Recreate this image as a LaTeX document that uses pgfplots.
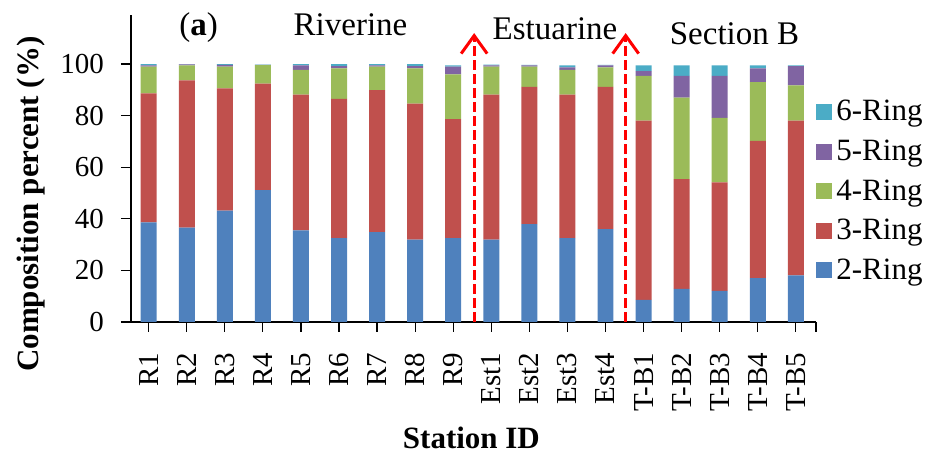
\documentclass[border=0pt]{standalone}
\usepackage{pgfplots}
\pgfplotsset{compat=1.18}
\usepackage{pgfplotstable}
\usepackage{fontspec}
\setmainfont{Liberation Serif}
\usetikzlibrary{arrows.meta}
\definecolor{cTwo}{HTML}{4F81BD}
\definecolor{cThree}{HTML}{C0504D}
\definecolor{cFour}{HTML}{9BBB59}
\definecolor{cFive}{HTML}{8064A2}
\definecolor{cSix}{HTML}{4BACC6}
\pgfplotstableread{
x two three four five six
0 38.6 50.0 10.4 0.5 0.5
1 36.6 57.1 5.8 0.4 0.1
2 43.2 47.4 8.4 0.7 0.3
3 51.1 41.3 7.2 0.1 0.1
4 35.5 52.6 9.6 1.8 0.5
5 32.5 54.0 11.8 0.9 0.8
6 34.8 55.1 9.1 0.5 0.5
7 31.9 52.7 13.7 0.9 0.8
8 32.5 46.1 17.4 3.0 0.5
9 31.9 56.2 10.9 0.5 0.3
10 37.9 53.2 7.9 0.5 0.2
11 32.5 55.6 9.6 1.0 0.8
12 36.0 55.1 7.6 0.8 0.2
13 8.6 69.5 17.3 1.8 2.3
14 12.8 42.6 31.6 8.4 4.1
15 12.1 42.0 25.0 16.3 4.1
16 17.0 53.2 22.8 5.3 1.2
17 18.1 60.0 13.6 7.5 0.3
}\data
\begin{document}
\begin{tikzpicture}
\begin{axis}[
  at={(0pt,0pt)}, anchor=south west,
  width=342.5pt, height=153.5pt, scale only axis,
  xmin=-0.465, xmax=17.53, ymin=0, ymax=119,
  ybar stacked, bar width=0.42,
  axis x line*=bottom, axis y line*=left,
  axis line style={line width=0.75pt, black},
  ytick={0,20,...,100},
  xtick={0,...,17},
  xticklabels={R1,R2,R3,R4,R5,R6,R7,R8,R9,Est1,Est2,Est3,Est4,T-B1,T-B2,T-B3,T-B4,T-B5},
  extra x ticks={17.53}, extra x tick labels={},
  tick align=outside, major tick length=5pt,
  tick style={black, line width=0.6pt},
  /pgf/number format/assume math mode=true,
  yticklabel style={font=\fontsize{14.5}{17}\selectfont},
  yticklabel shift=5pt,
  xticklabel style={font=\fontsize{14.5}{17}\selectfont, rotate=90, anchor=east},
  xticklabel shift=7pt,
  xlabel={Station ID},
  xlabel style={font=\fontsize{15.5}{18}\selectfont\bfseries, at={(axis description cs:0.497,-0.376)}, anchor=center},
  ylabel={Composition percent (\%)},
  ylabel style={font=\fontsize{15.5}{18}\selectfont\bfseries, at={(axis description cs:-0.146,0.384)}, anchor=center},
  legend style={draw=none, fill=none, inner sep=0pt, at={(axis description cs:1.0,0.736)}, anchor=north west,
    font=\fontsize{15.5}{18}\selectfont, row sep=4pt,
    /tikz/every even column/.append style={column sep=1pt}},
  legend cell align=left,
  reverse legend,
  legend image code/.code={\fill[#1] (0pt,-4pt) rectangle (8pt,4pt);},
]
\addplot[fill=cTwo, draw=none] table[x=x, y=two] {\data};
\addlegendentry{2-Ring}
\addplot[fill=cThree, draw=none] table[x=x, y=three] {\data};
\addlegendentry{3-Ring}
\addplot[fill=cFour, draw=none] table[x=x, y=four] {\data};
\addlegendentry{4-Ring}
\addplot[fill=cFive, draw=none] table[x=x, y=five] {\data};
\addlegendentry{5-Ring}
\addplot[fill=cSix, draw=none] table[x=x, y=six] {\data};
\addlegendentry{6-Ring}
\draw[red, line width=1.5pt, dash pattern=on 5pt off 2pt, -{Straight Barb[length=9pt, width=13pt, line width=1.5pt]}] (axis cs:8.55,0) -- (axis cs:8.55,112);
\draw[red, line width=1.5pt, dash pattern=on 5pt off 2pt, -{Straight Barb[length=9pt, width=13pt, line width=1.5pt]}] (axis cs:12.53,0) -- (axis cs:12.53,112);
\end{axis}
\node[anchor=base, font=\fontsize{16.5}{19}\selectfont] at (33.75pt,143pt) {(\textbf{a})};
\node[anchor=base, font=\fontsize{16.5}{19}\selectfont] at (109.75pt,143pt) {Riverine};
\node[anchor=base, font=\fontsize{16.5}{19}\selectfont] at (212pt,141.3pt) {Estuarine};
\node[anchor=base, font=\fontsize{16.5}{19}\selectfont] at (301.75pt,138.5pt) {Section B};
\pgfresetboundingbox
\path[use as bounding box] (-65.5pt,-66pt) rectangle (400.5pt,161pt);
\end{tikzpicture}
\end{document}
